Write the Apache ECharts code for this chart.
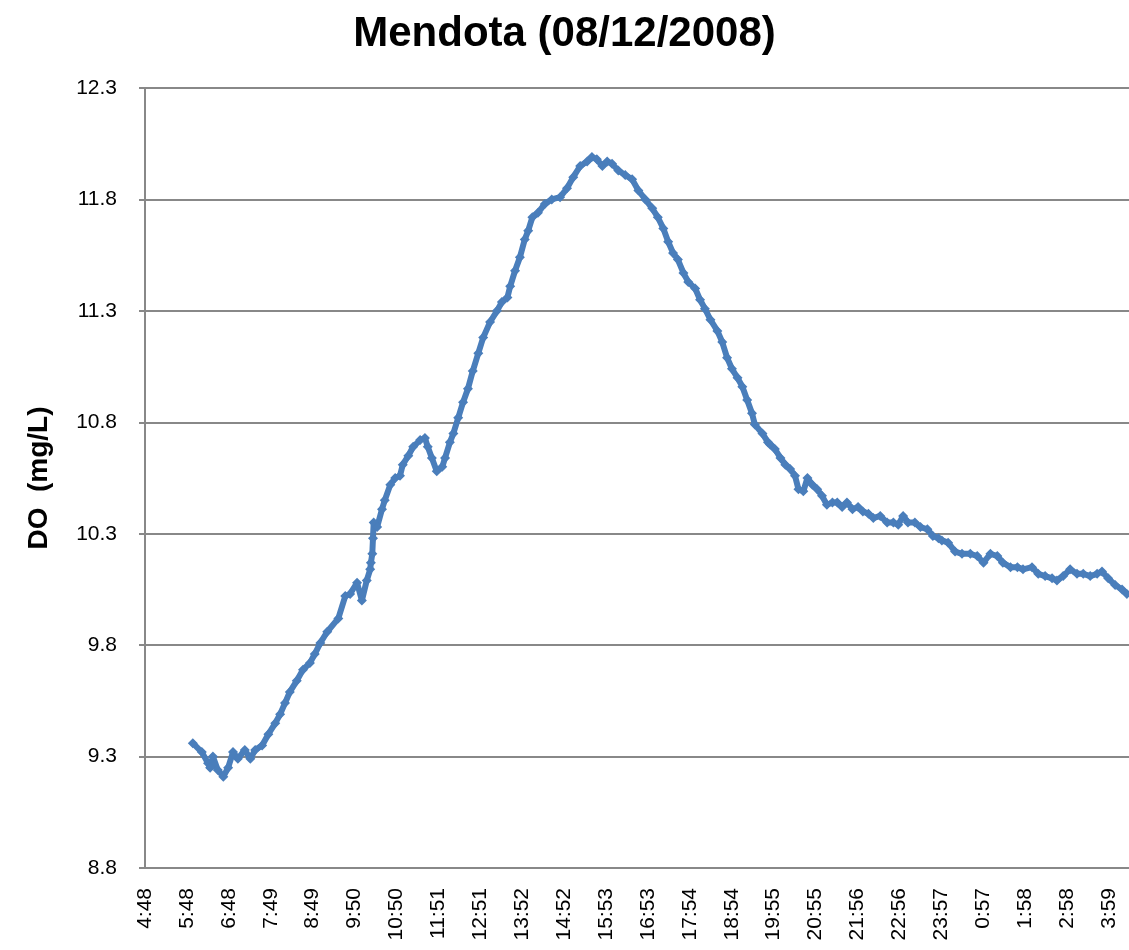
<!DOCTYPE html>
<html><head><meta charset="utf-8">
<script src="https://cdn.jsdelivr.net/npm/echarts@6/dist/echarts.min.js"></script>
<style>html,body{margin:0;padding:0;background:#fff}#c{width:1129px;height:950px}</style>
</head><body><div id="c"></div>
<script>
const titleText = 'Mendota (08/12/2008)';
const yAxisName = 'DO  (mg/L)';
const tickLabels = ['4:48','5:48','6:48','7:49','8:49','9:50','10:50','11:51','12:51','13:52','14:52','15:53','16:53','17:54','18:54','19:55','20:55','21:56','22:56','23:57','0:57','1:58','2:58','3:59'];
const yTicks = [8.8, 9.3, 9.8, 10.3, 10.8, 11.3, 11.8, 12.3];
// minutes elapsed since 4:48
const minutes = [69,82,91,94,98,105,113,120,127,134,144,152,159,169,178,188,195,202,209,219,228,238,245,253,263,279,289,296,306,313,320,325,326,328,329,330,335,342,346,354,361,368,372,380,387,397,404,408,414,421,429,433,440,445,452,459,466,473,481,488,498,508,515,523,527,534,541,548,553,559,567,577,587,599,609,618,628,638,645,652,660,667,674,683,693,703,712,722,732,740,748,755,762,769,777,784,794,801,808,816,826,833,840,847,855,862,869,876,880,891,899,902,909,917,924,931,938,943,950,956,963,970,977,984,992,999,1006,1013,1021,1029,1036,1044,1051,1061,1071,1080,1087,1094,1101,1111,1119,1129,1137,1145,1150,1159,1169,1179,1191,1201,1210,1220,1230,1238,1249,1259,1267,1280,1289,1299,1309,1316,1325,1335,1345,1354,1364,1374,1381,1390,1400,1410,1417];
const doValues = [9.36,9.32,9.27,9.25,9.30,9.24,9.21,9.25,9.32,9.29,9.33,9.29,9.33,9.35,9.40,9.45,9.49,9.54,9.59,9.64,9.69,9.72,9.76,9.81,9.86,9.92,10.02,10.03,10.08,10.00,10.09,10.14,10.17,10.21,10.28,10.35,10.33,10.41,10.45,10.52,10.55,10.56,10.61,10.65,10.69,10.72,10.73,10.69,10.64,10.58,10.60,10.64,10.71,10.75,10.82,10.89,10.95,11.03,11.11,11.18,11.25,11.30,11.34,11.36,11.41,11.48,11.54,11.62,11.66,11.72,11.74,11.78,11.80,11.81,11.85,11.90,11.95,11.97,11.99,11.98,11.95,11.97,11.96,11.93,11.91,11.89,11.84,11.80,11.76,11.72,11.67,11.61,11.56,11.53,11.47,11.43,11.40,11.35,11.31,11.26,11.21,11.16,11.09,11.04,11.00,10.96,10.90,10.84,10.79,10.75,10.71,10.70,10.68,10.64,10.61,10.59,10.56,10.50,10.49,10.55,10.52,10.50,10.47,10.43,10.44,10.44,10.42,10.44,10.41,10.42,10.40,10.39,10.37,10.38,10.35,10.35,10.34,10.38,10.35,10.35,10.33,10.32,10.29,10.28,10.27,10.26,10.22,10.21,10.21,10.20,10.17,10.21,10.20,10.17,10.15,10.15,10.14,10.15,10.12,10.11,10.10,10.09,10.11,10.14,10.12,10.12,10.11,10.12,10.13,10.10,10.07,10.05,10.03];

const tickStep = 1391 / 23; // minutes between labelled ticks
const xMax = 1420;
const blue = '#4A7EBB';
const grey = '#888888';

const chart = echarts.init(document.getElementById('c'), null, {renderer: 'canvas'});
chart.setOption({
  animation: false,
  backgroundColor: '#fff',
  title: {
    text: titleText, left: 'center', top: 8,
    textStyle: {fontFamily: 'Liberation Sans', fontSize: 42, fontWeight: 'bold', color: '#000'}
  },
  grid: {left: 145, right: 0, top: 88, bottom: 82, containLabel: false},
  xAxis: {
    type: 'value', min: 0, max: xMax, interval: tickStep,
    axisLine: {show: true, onZero: false, lineStyle: {color: grey, width: 2}},
    axisTick: {show: false},
    splitLine: {show: false},
    axisLabel: {
      rotate: 90, margin: 20, fontFamily: 'Liberation Sans', fontSize: 21, color: '#000',
      showMaxLabel: false,
      formatter: function (v) {
        const i = Math.round(v / tickStep);
        if (Math.abs(v - i * tickStep) > 0.5) return '';
        return tickLabels[i] || '';
      }
    }
  },
  yAxis: {
    type: 'value', min: yTicks[0], max: yTicks[yTicks.length - 1], interval: 0.5,
    name: yAxisName, nameLocation: 'middle', nameRotate: 90, nameGap: 92,
    nameTextStyle: {fontFamily: 'Liberation Sans', fontSize: 28, fontWeight: 'bold', color: '#000'},
    axisLine: {show: true, lineStyle: {color: grey, width: 2}},
    axisTick: {show: true, inside: false, length: 6, lineStyle: {color: grey, width: 2}},
    splitLine: {show: true, lineStyle: {color: grey, width: 2}},
    axisLabel: {
      margin: 28, fontFamily: 'Liberation Sans', fontSize: 21, color: '#000',
      formatter: function (v) { return v.toFixed(1); }
    }
  },
  series: [{
    type: 'line',
    data: minutes.map((m, i) => [m, doValues[i]]),
    symbol: 'diamond', symbolSize: 10, showSymbol: true, showAllSymbol: true,
    lineStyle: {color: blue, width: 6, join: 'round', cap: 'round'},
    itemStyle: {color: blue},
    clip: true
  }]
});
</script>
</body></html>
